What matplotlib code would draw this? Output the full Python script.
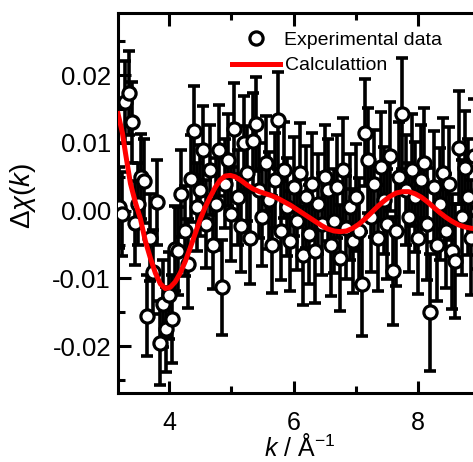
import matplotlib
matplotlib.use("Agg")
import matplotlib.pyplot as plt
from matplotlib.ticker import MultipleLocator, FormatStrFormatter

plt.rcParams['font.family'] = ['Liberation Sans', 'DejaVu Sans']
plt.rcParams['mathtext.fontset'] = 'custom'
plt.rcParams['mathtext.it'] = 'Liberation Sans:italic'
plt.rcParams['mathtext.rm'] = 'Liberation Sans'

# experimental data (k in 1/A, delta chi, error)
k_exp = [3.20, 3.25, 3.30, 3.35, 3.40, 3.45, 3.50, 3.55, 3.60, 3.65,
         3.70, 3.75, 3.80, 3.85, 3.90, 3.95, 4.00, 4.05, 4.10, 4.15,
         4.20, 4.25, 4.30, 4.35, 4.40, 4.45, 4.50, 4.55, 4.60, 4.65,
         4.70, 4.75, 4.80, 4.85, 4.90, 4.95, 5.00, 5.05, 5.10, 5.15,
         5.20, 5.25, 5.30, 5.35, 5.40, 5.45, 5.50, 5.55, 5.60, 5.65,
         5.70, 5.75, 5.80, 5.85, 5.90, 5.95, 6.00, 6.05, 6.10, 6.15,
         6.20, 6.25, 6.30, 6.35, 6.40, 6.45, 6.50, 6.55, 6.60, 6.65,
         6.70, 6.75, 6.80, 6.85, 6.90, 6.95, 7.00, 7.05, 7.10, 7.15,
         7.20, 7.25, 7.30, 7.35, 7.40, 7.45, 7.50, 7.55, 7.60, 7.65,
         7.70, 7.75, 7.80, 7.85, 7.90, 7.95, 8.00, 8.05, 8.10, 8.15,
         8.20, 8.25, 8.30, 8.35, 8.40, 8.45, 8.50, 8.55, 8.60, 8.65,
         8.70, 8.75, 8.80, 8.85, 8.90, 8.95, 9.00]
chi_exp = [0.0005, -0.0005, 0.0160, 0.0174, 0.0130, -0.0018, 0.0010, 0.0050, 0.0044, -0.0155,
           -0.0040, -0.0090, 0.0012, -0.0195, -0.0137, -0.0175, -0.0125, -0.0160, -0.0056, -0.0060,
           0.0025, -0.0030, -0.0078, 0.0047, 0.0118, 0.0005, 0.0030, 0.0089, -0.0020, 0.0060,
           -0.0050, 0.0010, 0.0089, -0.0113, 0.0040, 0.0075, -0.0005, 0.0121, 0.0020, -0.0022,
           0.0100, 0.0055, -0.0040, 0.0103, 0.0128, 0.0030, -0.0010, 0.0070, 0.0015, -0.0050,
           0.0045, 0.0133, -0.0030, 0.0060, 0.0005, -0.0045, 0.0035, -0.0015, 0.0055, -0.0066,
           0.0020, -0.0035, 0.0040, -0.0060, 0.0010, -0.0020, 0.0050, 0.0030, -0.0050, -0.0015,
           0.0035, -0.0070, 0.0060, -0.0025, 0.0005, -0.0045, 0.0020, -0.0030, -0.0108, 0.0115,
           0.0074, -0.0010, 0.0040, -0.0040, 0.0065, 0.0015, -0.0020, 0.0080, -0.0089, -0.0030,
           0.0050, 0.0143, 0.0030, -0.0010, 0.0060, 0.0020, -0.0040, 0.0045, 0.0070, -0.0020,
           -0.0150, 0.0035, -0.0050, 0.0010, 0.0055, -0.0030, 0.0040, -0.0060, -0.0074, 0.0093,
           -0.0010, 0.0063, 0.0020, -0.0040, 0.0080, 0.0000, 0.0030]
err_exp = [0.0060, 0.0062, 0.0060, 0.0062, 0.0060, 0.0062, 0.0060, 0.0063, 0.0062, 0.0060,
           0.0064, 0.0062, 0.0063, 0.0062, 0.0064, 0.0063, 0.0064, 0.0065, 0.0063, 0.0065,
           0.0064, 0.0066, 0.0065, 0.0064, 0.0066, 0.0065, 0.0067, 0.0066, 0.0065, 0.0067,
           0.0066, 0.0068, 0.0067, 0.0070, 0.0066, 0.0068, 0.0069, 0.0067, 0.0070, 0.0068,
           0.0069, 0.0070, 0.0068, 0.0071, 0.0069, 0.0070, 0.0072, 0.0070, 0.0071, 0.0072,
           0.0070, 0.0072, 0.0073, 0.0071, 0.0072, 0.0074, 0.0073, 0.0072, 0.0074, 0.0073,
           0.0075, 0.0073, 0.0074, 0.0076, 0.0074, 0.0075, 0.0077, 0.0075, 0.0076, 0.0077,
           0.0076, 0.0078, 0.0077, 0.0076, 0.0078, 0.0077, 0.0079, 0.0078, 0.0077, 0.0079,
           0.0078, 0.0080, 0.0079, 0.0078, 0.0080, 0.0079, 0.0081, 0.0080, 0.0079, 0.0081,
           0.0080, 0.0082, 0.0081, 0.0080, 0.0082, 0.0081, 0.0083, 0.0082, 0.0081, 0.0083,
           0.0086, 0.0082, 0.0084, 0.0083, 0.0082, 0.0084, 0.0083, 0.0085, 0.0084, 0.0083,
           0.0085, 0.0084, 0.0086, 0.0085, 0.0084, 0.0086, 0.0085]

# calculated curve
k_calc = [3.18, 3.25, 3.30, 3.38, 3.46, 3.54, 3.62, 3.70, 3.78, 3.86,
          3.94, 4.02, 4.10, 4.18, 4.26, 4.34, 4.42, 4.50, 4.58, 4.66,
          4.74, 4.82, 4.90, 4.98, 5.06, 5.15, 5.25, 5.35, 5.45, 5.55,
          5.65, 5.75, 5.85, 5.95, 6.05, 6.15, 6.25, 6.35, 6.45, 6.55,
          6.65, 6.75, 6.85, 6.95, 7.05, 7.15, 7.25, 7.35, 7.45, 7.55,
          7.65, 7.75, 7.85, 7.95, 8.05, 8.15, 8.25, 8.35, 8.45, 8.55,
          8.65, 8.75, 8.85, 8.95, 9.05, 9.15]
chi_calc = [0.0143, 0.0115, 0.0085, 0.0040, 0.0012, -0.0012, -0.0045, -0.0070, -0.0092, -0.0108,
            -0.0115, -0.0113, -0.0105, -0.0092, -0.0075, -0.0055, -0.0034, -0.0013, 0.0005, 0.0020,
            0.0034, 0.0045, 0.0051, 0.0052, 0.0050, 0.0045, 0.0038, 0.0032, 0.0028, 0.0025,
            0.0022, 0.0018, 0.0013, 0.0008, 0.0002, -0.0004, -0.0010, -0.0016, -0.0022, -0.0027,
            -0.0030, -0.0031, -0.0030, -0.0026, -0.0020, -0.0012, -0.0003, 0.0006, 0.0014, 0.0021,
            0.0026, 0.0028, 0.0028, 0.0025, 0.0020, 0.0013, 0.0005, -0.0003, -0.0010, -0.0016,
            -0.0021, -0.0024, -0.0026, -0.0027, -0.0026, -0.0023]

fig = plt.figure(figsize=(4.73, 4.62), dpi=100)
# axes run past the right edge of the picture (the figure is cropped)
ax_w_px = (9.5 - 3.18) * 62.25
ax = fig.add_axes([118 / 473, 69 / 462, ax_w_px / 473, 380 / 462])

ax.errorbar(k_exp, chi_exp, yerr=err_exp, fmt='none', ecolor='black',
            elinewidth=2.6, capsize=4.5, capthick=2.6, zorder=2)
ax.plot(k_exp, chi_exp, 'o', ms=9.5, mfc='white', mec='black', mew=2.3,
        ls='none', label='Experimental data', zorder=3)
ax.plot(k_calc, chi_calc, color='#ff0000', lw=3.6, label='Calculattion', zorder=4)

ax.set_xlim(3.18, 9.5)
ax.set_ylim(-0.0269, 0.02915)

ax.xaxis.set_major_locator(MultipleLocator(2))
ax.xaxis.set_minor_locator(MultipleLocator(1))
ax.yaxis.set_major_locator(MultipleLocator(0.01))
ax.yaxis.set_minor_locator(MultipleLocator(0.005))
ax.yaxis.set_major_formatter(FormatStrFormatter('%.2f'))

ax.tick_params(which='both', direction='in', top=True, right=True, width=2.2)
ax.tick_params(which='major', length=9)
ax.tick_params(which='minor', length=5)
ax.tick_params(axis='x', labelsize=18, pad=13)
ax.tick_params(axis='y', labelsize=18.5, pad=5)
for s in ax.spines.values():
    s.set_linewidth(2.2)

ax.set_xlabel(r'$k$ / Å$^{\mathregular{-1}}$', fontsize=18)
ax.xaxis.set_label_coords((300 - 118) / ax_w_px, -0.108)
ax.set_ylabel(r'$\Delta\chi(k)$', fontsize=20)
ax.yaxis.set_label_coords((38 - 118) / ax_w_px, 0.52)

ax.legend(loc='upper left', bbox_to_anchor=(232 / 473, 1 - 31 / 462),
          bbox_transform=fig.transFigure, frameon=False, fontsize=14,
          handlelength=2.45, handletextpad=0.25, labelspacing=0.42,
          borderpad=0, borderaxespad=0)

fig.savefig('out.png', dpi=100)
